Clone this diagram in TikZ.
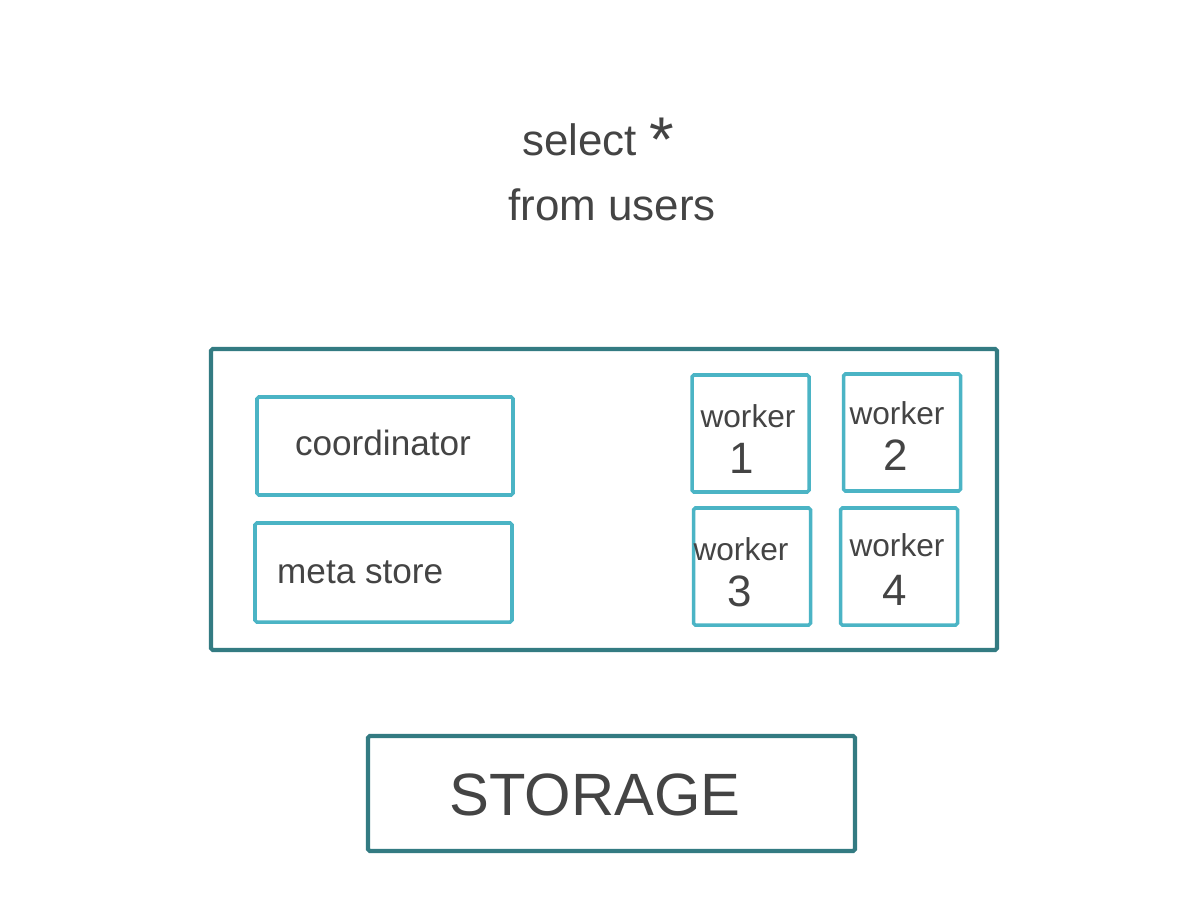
\documentclass[tikz,border=0pt]{standalone}
\usepackage{fontspec}
\setmainfont{Liberation Sans}
\definecolor{outerteal}{HTML}{337B82}
\definecolor{innerteal}{HTML}{4BB4C5}
\definecolor{ink}{HTML}{444444}
\begin{document}
\begin{tikzpicture}[x=0.02cm,y=-0.02cm,
  outerbox/.style={draw=outerteal,line width=2.3pt,rounded corners=1pt},
  innerbox/.style={draw=innerteal,line width=2pt,rounded corners=1pt},
  hand/.style={text=ink,font=\fontsize{20}{24}\selectfont},
  wtext/.style={text=ink,font=\fontsize{18}{21}\selectfont},
  wnum/.style={text=ink,font=\fontsize{25}{30}\selectfont}]
\useasboundingbox[fill=white] (0,0) rectangle (1200,899);
% query
\node[hand,font=\fontsize{25}{30}\selectfont] (q1) at (598,140) {select \raisebox{-0.15em}{\fontsize{36}{36}\selectfont *}};
\node[hand,font=\fontsize{25}{30}\selectfont] (q2) at (612,205) {from users};
% cluster
\draw[outerbox] (211,349) rectangle (997,650);
\node[innerbox,minimum width=256*0.02cm,minimum height=98*0.02cm] (coord) at (385,446) {};
\node[hand] (coordlbl) at (383,443) {coordinator};
\node[innerbox,minimum width=257*0.02cm,minimum height=99*0.02cm] (meta) at (383.5,572.5) {};
\node[hand,anchor=west] (metalbl) at (271,572) {meta store};
\node[innerbox,minimum size=117*0.02cm] (w1) at (750.5,433.5) {};
\node[innerbox,minimum size=117*0.02cm] (w2) at (902,432.5) {};
\node[innerbox,minimum size=117*0.02cm] (w3) at (752,566.5) {};
\node[innerbox,minimum size=117*0.02cm] (w4) at (899,566.5) {};
\node[wtext] (w1a) at (748,416) {worker};
\node[wnum]  (w1b) at (742,458) {1};
\node[wtext] (w2a) at (897,413) {worker};
\node[wnum]  (w2b) at (896,455) {2};
\node[wtext] (w3a) at (741,549) {worker};
\node[wnum]  (w3b) at (740,591) {3};
\node[wtext] (w4a) at (897,545) {worker};
\node[wnum]  (w4b) at (895,590) {4};
% storage
\node[outerbox,minimum width=487*0.02cm,minimum height=115*0.02cm] (storage) at (611.5,793.5) {};
\node[hand,font=\fontsize{34}{40}\selectfont] (storelbl) at (595,795) {STORAGE};
\end{tikzpicture}
\end{document}
